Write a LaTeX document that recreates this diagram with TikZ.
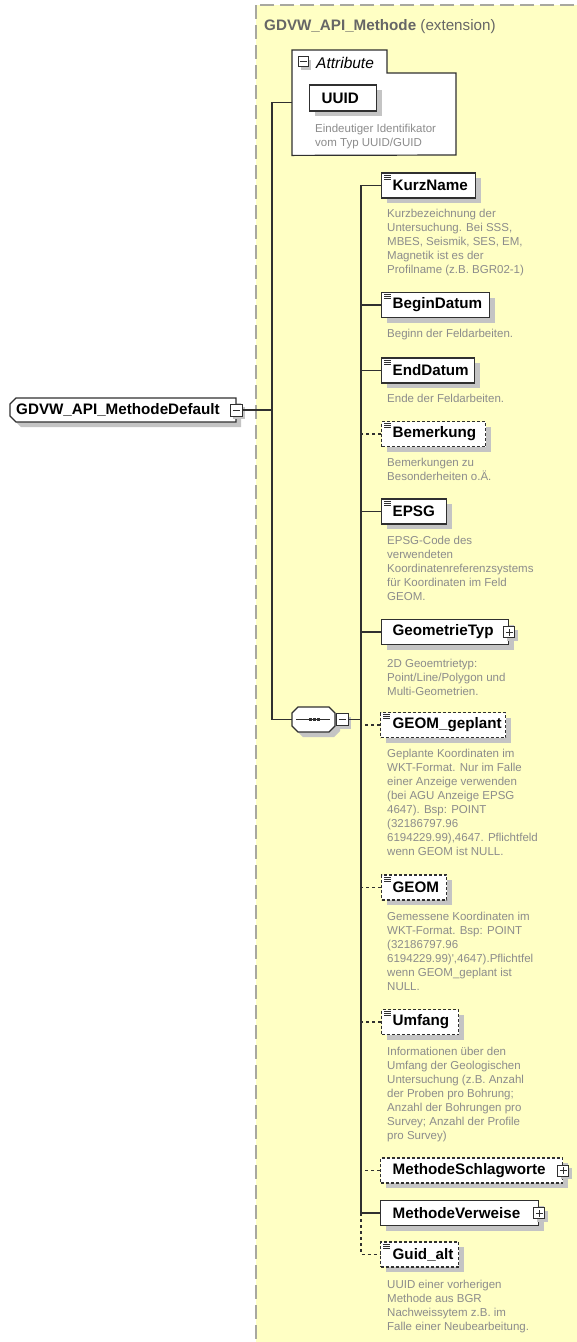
\documentclass[tikz,border=0pt]{standalone}
\usepackage{fontspec}
\newfontfamily\lsans{Liberation Sans}
\usetikzlibrary{shadows}
\definecolor{ylw}{HTML}{FFFFC4}
\definecolor{ylwborder}{HTML}{A8A8A0}
\definecolor{edge}{HTML}{303030}
\definecolor{shd}{HTML}{C4C4C4}
\definecolor{desc}{HTML}{8C8C8C}
\definecolor{titlec}{HTML}{666666}
\newcommand\namefont{\lsans\bfseries\fontsize{15.2}{18}\selectfont}
\newcommand\descfont{\lsans\fontsize{11.5}{14}\selectfont}
\tikzset{
  conn/.style={draw=edge, line width=1.3pt},
  optconn/.style={conn, dash pattern=on 3pt off 3pt},
  elem/.style={draw=edge, line width=1.3pt, fill=white, minimum height=25pt,
    inner xsep=0pt, inner ysep=0pt, anchor=west, align=left, font=\namefont,
    drop shadow={shadow xshift=5pt, shadow yshift=-5pt, fill=shd, opacity=1}},
  opt/.style={dash pattern=on 3pt off 2pt},
  leaf/.style={path picture={
    \foreach \k in {0,1,2}
      \draw[edge, solid, line width=1pt] ([xshift=2.5pt, yshift=-2pt-2pt*\k]path picture bounding box.north west) -- ++(7pt,0);}},
  pm/.style={draw=edge, line width=1pt, fill=white, minimum size=11pt, inner sep=0pt,
    drop shadow={shadow xshift=3pt, shadow yshift=-3pt, fill=shd, opacity=1}},
  plusbox/.style={pm, path picture={
    \draw[edge, solid, line width=1pt] ([xshift=-3.5pt]path picture bounding box.center) -- ++(7pt,0)
      ([yshift=-3.5pt]path picture bounding box.center) -- ++(0,7pt);}},
  minusbox/.style={pm, path picture={
    \draw[edge, solid, line width=1pt] ([xshift=-3.5pt]path picture bounding box.center) -- ++(7pt,0);}},
  descr/.style={anchor=north west, inner sep=0pt, align=left, text=desc, font=\descfont},
}
\begin{document}
\begin{tikzpicture}[x=1pt,y=-1pt]
\useasboundingbox (0,0) rectangle (576,1342);
\fill[white] (0,0) rectangle (576,1342);
% extension area
\draw[ylwborder, line width=2.2pt, dash pattern=on 14pt off 6pt, fill=ylw] (256,5) rectangle (610,1380);
\node[anchor=base west, inner sep=0pt, font=\lsans\fontsize{15.2}{18}\selectfont, text=titlec] (title) at (264,30)
  {\bfseries GDVW\_API\_Methode \mdseries(extension)};

% root element
\fill[shd] (21,403) -- (241,403) -- (241,427) -- (21,427) -- (15,421) -- (15,409) -- cycle;
\draw[edge, line width=1.3pt, fill=white] (16,398) -- (236,398) -- (236,422) -- (16,422) -- (10,416) -- (10,404) -- cycle;
\node[anchor=west, inner sep=0pt, font=\namefont] (root) at (16,410) {GDVW\_API\_MethodeDefault};
\node[minusbox, minimum size=12pt] (rootm) at (236,410) {};

% attribute group
\node[minimum width=164pt, minimum height=105pt, inner sep=0pt, anchor=north west] (attr) at (292,50) {};
\draw[edge, line width=1.2pt, fill=white] (attr.north west) -- (387,50) -- (387,73) -- (456,73) -- (456,155) -- (attr.south west) -- cycle;
\node[minusbox, minimum size=10pt, drop shadow={opacity=0}] (attrm) at (303,61.5) {};
\node[anchor=base west, inner sep=0pt, font=\lsans\itshape\fontsize{15.5}{18}\selectfont] (attrlabel) at (316,68) {Attribute};
\node[elem, text width=67pt, minimum height=26pt] (uuid) at (309,98) {\hspace*{12pt}UUID};
\node[descr] (uuidd) at (315,122) {\strut Eindeutiger Identifikator\\vom Typ UUID/GUID};

% sequence compositor
\fill[shd] (303,712) -- (334,712) -- (340,718) -- (340,731) -- (334,737) -- (303,737) -- (297,731) -- (297,718) -- cycle;
\draw[edge, line width=1.3pt, fill=white] (298,707) -- (329,707) -- (335,713) -- (335,726) -- (329,732) -- (298,732) -- (292,726) -- (292,713) -- cycle;
\node[minimum width=43pt, minimum height=25pt, inner sep=0pt] (seq) at (313.5,719.5) {};
\draw[edge, line width=1.3pt] ([xshift=4pt]seq.west) -- ([xshift=-5pt]seq.east);
\foreach \dx in {-5,-1,3}
  \fill[edge] ([xshift=\dx pt, yshift=-1.7pt]seq.center) rectangle ++(3.4pt,3.4pt);
\node[minusbox, minimum size=12pt] (seqm) at (342,719.5) {};

% trunk 1
\coordinate (b1) at (272,410);
\draw[conn] (rootm.east) -- (b1);
\draw[conn] (attr.west) -| (b1) |- (seq.west);

% child elements
\node[elem, leaf, text width=94pt] (kurz) at (381,185.5) {\hspace*{11pt}KurzName};
\node[descr] (kurzd) at (387,207) {\strut Kurzbezeichnung der\\Untersuchung. Bei SSS,\\MBES, Seismik, SES, EM,\\Magnetik ist es der\\Profilname (z.B. BGR02-1)};

\node[elem, leaf, text width=108pt] (begin) at (381,305) {\hspace*{11pt}BeginDatum};
\node[descr] (begind) at (387,327) {\strut Beginn der Feldarbeiten.};

\node[elem, leaf, text width=93pt] (endd) at (381,370.5) {\hspace*{11pt}EndDatum};
\node[descr] (enddd) at (387,392) {\strut Ende der Feldarbeiten.};

\node[elem, leaf, opt, text width=104pt] (bem) at (381,434) {\hspace*{11pt}Bemerkung};
\node[descr] (bemd) at (387,456) {\strut Bemerkungen zu\\Besonderheiten o.Ä.};

\node[elem, leaf, text width=65pt] (epsg) at (381,511.5) {\hspace*{11pt}EPSG};
\node[descr] (epsgd) at (387,534) {\strut EPSG-Code des\\verwendeten\\Koordinatenreferenzsystems\\für Koordinaten im Feld\\GEOM.};

\node[elem, text width=127pt] (geotyp) at (381,632) {\hspace*{11pt}GeometrieTyp};
\node[plusbox] (geotypp) at (geotyp.east) {};
\node[descr] (geotypd) at (387,657) {\strut 2D Geoemtrietyp:\\Point/Line/Polygon und\\Multi-Geometrien.};

\node[elem, leaf, opt, text width=125pt] (geomg) at (380,725) {\hspace*{12pt}GEOM\_geplant};
\node[descr] (geomgd) at (387,747) {\strut Geplante Koordinaten im\\WKT-Format. Nur im Falle\\einer Anzeige verwenden\\(bei AGU Anzeige EPSG\\4647). Bsp: POINT\\(32186797.96\\6194229.99),4647. Pflichtfeld\\wenn GEOM ist NULL.};

\node[elem, leaf, opt, text width=65pt] (geom) at (381,887.5) {\hspace*{11pt}GEOM};
\node[descr] (geomd) at (387,910) {\strut Gemessene Koordinaten im\\WKT-Format. Bsp: POINT\\(32186797.96\\6194229.99)',4647).Pflichtfel\\wenn GEOM\_geplant ist\\NULL.};

\node[elem, leaf, opt, text width=77pt] (umf) at (381,1022) {\hspace*{11pt}Umfang};
\node[descr] (umfd) at (387,1045) {\strut Informationen über den\\Umfang der Geologischen\\Untersuchung (z.B. Anzahl\\der Proben pro Bohrung;\\Anzahl der Bohrungen pro\\Survey; Anzahl der Profile\\pro Survey)};

\node[elem, opt, text width=182pt] (schlag) at (380,1170.5) {\hspace*{12pt}MethodeSchlagworte};
\node[plusbox] (schlagp) at (schlag.east) {};

\node[elem, text width=158pt] (verw) at (380,1213) {\hspace*{12pt}MethodeVerweise};
\node[plusbox] (verwp) at (verw.east) {};

\node[elem, leaf, opt, text width=78pt] (guid) at (380,1254.5) {\hspace*{12pt}Guid\_alt};
\node[descr] (guidd) at (387,1278) {\strut UUID einer vorherigen\\Methode aus BGR\\Nachweissytem z.B. im\\Falle einer Neubearbeitung.};

% trunk 2
\coordinate (b2) at (361,0);
\draw[conn] (kurz.west) -- (kurz.west -| b2) -- (verw.west -| b2) -- (verw.west);
\draw[optconn] (verw.west -| b2) -- (guid.west -| b2) -- (guid.west);
\draw[conn] (seqm.east) -- (seqm.east -| b2);
\foreach \n in {begin, endd, epsg, geotyp}
  \draw[conn] (\n.west) -- (\n.west -| b2);
\foreach \n in {bem, geomg, geom, umf, schlag}
  \draw[optconn] (\n.west) -- (\n.west -| b2);
\end{tikzpicture}
\end{document}
